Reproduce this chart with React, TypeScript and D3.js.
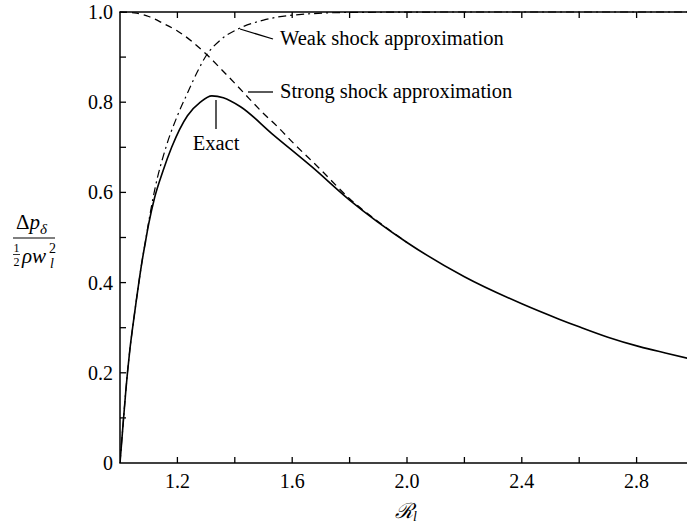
import React from "react";
import * as d3 from "d3";

const exactX = [1.0, 1.005, 1.01, 1.02, 1.026, 1.035, 1.044, 1.057, 1.075, 1.09, 1.1, 1.12, 1.15, 1.18, 1.235, 1.28, 1.32, 1.36, 1.42, 1.53, 1.67, 1.8, 2.0, 2.2, 2.4, 2.53, 2.6, 2.7, 2.81, 2.9, 3.0];
const exactY = [0, 0.04, 0.08, 0.158, 0.2, 0.255, 0.3, 0.361, 0.44, 0.495, 0.53, 0.587, 0.648, 0.7, 0.77, 0.8, 0.814, 0.81, 0.79, 0.73, 0.656, 0.583, 0.489, 0.413, 0.353, 0.319, 0.302, 0.279, 0.258, 0.244, 0.229];

const weakX = [1.0, 1.01, 1.02, 1.026, 1.035, 1.044, 1.057, 1.075, 1.09, 1.1, 1.12, 1.16, 1.2, 1.235, 1.27, 1.3, 1.35, 1.41, 1.5, 1.6, 1.8, 2.2, 3.0];
const weakY = [0, 0.08, 0.158, 0.2, 0.255, 0.3, 0.361, 0.44, 0.497, 0.535, 0.603, 0.7, 0.77, 0.82, 0.868, 0.903, 0.938, 0.962, 0.982, 0.993, 0.999, 1.0, 1.0];

const strongX = [1.0, 1.05, 1.1, 1.15, 1.2, 1.25, 1.3, 1.35, 1.4, 1.45, 1.5, 1.55, 1.6, 1.7, 1.8, 1.9, 2.0];
const strongY = [1.0, 0.998, 0.99, 0.975, 0.958, 0.935, 0.907, 0.875, 0.842, 0.808, 0.775, 0.745, 0.712, 0.65, 0.586, 0.535, 0.489];

const xTicks = [1.2, 1.4, 1.6, 1.8, 2.0, 2.2, 2.4, 2.6, 2.8];
const xLabels = [1.2, 1.6, 2.0, 2.4, 2.8];
const yTicks = [0.1, 0.2, 0.3, 0.4, 0.5, 0.6, 0.7, 0.8, 0.9];
const yLabels = [0, 0.2, 0.4, 0.6, 0.8, 1.0];

const W = 687;
const H = 528;
const FONT = '"Liberation Serif", "DejaVu Serif", serif';

export default function App() {
  const x = d3.scaleLinear().domain([1, 3]).range([120, 694]);
  const y = d3.scaleLinear().domain([0, 1]).range([463, 12]);

  const mk = (xs: number[], ys: number[]) =>
    d3
      .line<number>()
      .x((_, i) => x(xs[i]))
      .y((_, i) => y(ys[i]))
      .curve(d3.curveMonotoneX)(xs) || "";

  const fmt = (v: number) => (v === 0 ? "0" : v.toFixed(1));

  return (
    <svg
      width={W}
      height={H}
      style={{ position: "absolute", left: 0, top: 0, background: "#fff", fontFamily: FONT }}
    >
      <defs>
        <clipPath id="plot">
          <rect x={120} y={10} width={W - 120} height={455} />
        </clipPath>
      </defs>
      <rect width={W} height={H} fill="#fff" />

      {/* curves */}
      <g clipPath="url(#plot)" fill="none" stroke="#000">
        <path d={mk(strongX, strongY)} strokeWidth={1.3} strokeDasharray="7,5" />
        <path d={mk(weakX, weakY)} strokeWidth={1.2} strokeDasharray="8,4,2,4" />
        <path d={mk(exactX, exactY)} strokeWidth={1.6} />
      </g>

      {/* axes */}
      <g stroke="#000" strokeWidth={1.5} fill="none">
        <line x1={120} y1={12} x2={120} y2={463} />
        <line x1={119.3} y1={463} x2={W} y2={463} />
        <line x1={119.3} y1={12} x2={W} y2={12} />
      </g>
      <g stroke="#000" strokeWidth={1.3}>
        {xTicks.map((t) => (
          <g key={"xt" + t}>
            <line x1={x(t)} x2={x(t)} y1={463} y2={457} />
            <line x1={x(t)} x2={x(t)} y1={12} y2={18} />
          </g>
        ))}
        {yTicks.map((t) => (
          <line key={"yt" + t} x1={120} x2={126} y1={y(t)} y2={y(t)} />
        ))}
      </g>

      {/* tick labels */}
      <g fontSize={20} fill="#000">
        {xLabels.map((t) => (
          <text key={"xl" + t} x={x(t)} y={488} textAnchor="middle">
            {fmt(t)}
          </text>
        ))}
        {yLabels.map((t) => (
          <text key={"yl" + t} x={113} y={y(t) + 7} textAnchor="end">
            {fmt(t)}
          </text>
        ))}
      </g>

      {/* annotations */}
      <g stroke="#000" strokeWidth={1.3}>
        <line x1={240} y1={29} x2={273} y2={39} />
        <line x1={248} y1={92} x2={273} y2={92} />
        <line x1={216} y1={100} x2={216} y2={129} />
      </g>
      <g fontSize={20.5} fill="#000">
        <text x={280} y={45}>Weak shock approximation</text>
        <text x={280} y={98}>Strong shock approximation</text>
        <text x={216} y={150} textAnchor="middle">Exact</text>
      </g>

      {/* x axis title */}
      <text x={395} y={518} fontSize={21} fontStyle="italic" fill="#000">
        ℛ
        <tspan fontSize={14} dy={3}>l</tspan>
      </text>

      {/* y axis title */}
      <g fill="#000">
        <text x={16} y={229} fontSize={21}>
          Δ<tspan fontStyle="italic">p</tspan>
          <tspan fontStyle="italic" fontSize={15} dy={5}>δ</tspan>
        </text>
        <line x1={13} x2={55} y1={238} y2={238} stroke="#000" strokeWidth={1.2} />
        <text x={16.5} y={252} fontSize={12} textAnchor="middle">1</text>
        <line x1={13} x2={20} y1={254.5} y2={254.5} stroke="#000" strokeWidth={0.8} />
        <text x={16.5} y={266} fontSize={12} textAnchor="middle">2</text>
        <text x={22} y={263} fontSize={21} fontStyle="italic">ρw</text>
        <text x={49} y={253} fontSize={14}>2</text>
        <text x={50} y={268} fontSize={14} fontStyle="italic">l</text>
      </g>
    </svg>
  );
}
